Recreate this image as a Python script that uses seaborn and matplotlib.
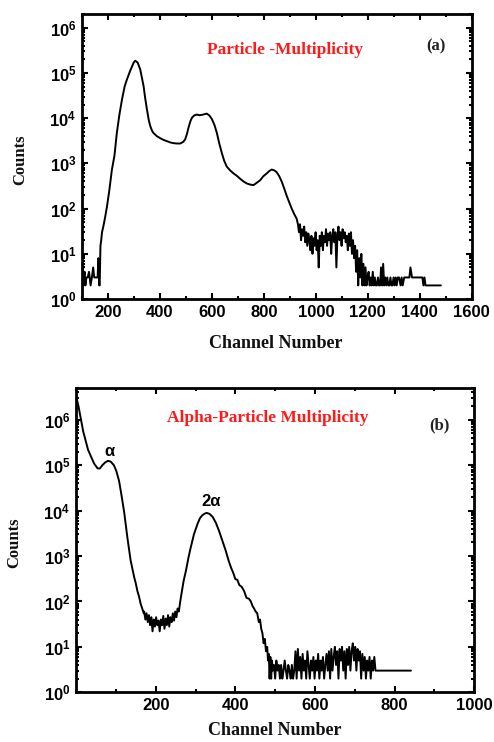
import numpy as np
import pandas as pd
import matplotlib
matplotlib.use("Agg")
import matplotlib.pyplot as plt
import seaborn as sns
from matplotlib.ticker import FixedLocator, FixedFormatter, MultipleLocator, LogLocator, NullFormatter

# ---------------- data ----------------
# Panel (a): Particle multiplicity spectrum
a_channel = [100, 102, 104, 107, 110, 113, 117, 122, 127, 133, 138, 143, 147, 155, 160, 163, 166, 168,
             171, 174, 177, 182, 188, 196, 205, 215, 225, 234, 244, 254, 264, 273, 285, 299, 305, 314,
             324, 330, 337, 343, 350, 357, 363, 370, 375, 388, 401, 414, 427, 440, 452, 465, 478, 490,
             497, 504, 510, 517, 523, 532, 542, 552, 561, 571, 580, 590, 600, 610, 619, 628, 638, 647,
             657, 670, 683, 696, 708, 721, 734, 747, 760, 772, 785, 798, 811, 821, 830, 840, 849, 859,
             869, 878, 888, 898, 907, 917, 926, 931,
             935, 939, 943, 947, 951, 955, 959, 963, 967, 971, 975, 979, 983, 987, 991, 995, 999, 1003,
             1007, 1011, 1015, 1019, 1023, 1027, 1031, 1035, 1039, 1043, 1047, 1051, 1055, 1059, 1063,
             1067, 1071, 1075, 1079, 1083, 1087, 1091, 1095, 1099, 1103, 1107, 1111, 1115, 1119, 1123,
             1127, 1131, 1135, 1139, 1143, 1147, 1151, 1155, 1159, 1163, 1167, 1171, 1175, 1179, 1183,
             1187, 1191, 1195, 1199, 1203, 1207, 1211, 1215, 1219, 1223, 1227, 1231, 1235, 1239, 1243,
             1247, 1251, 1255, 1259, 1263, 1267, 1271, 1275, 1279, 1283, 1287, 1291, 1295, 1299, 1303,
             1307, 1311, 1315, 1320, 1326, 1330, 1334, 1340, 1345, 1350, 1360, 1364, 1370, 1390, 1410,
             1414, 1418, 1422, 1440, 1481]
a_counts = [2, 5, 2, 3, 4, 2, 3, 3, 4, 2, 3, 5, 3, 3, 3, 8, 2, 2,
            15, 20, 30, 40, 60, 110, 250, 720, 1500, 4700, 12000, 26000, 50000, 72000, 110000, 170000, 186000, 170000,
            120000, 80000, 51000, 28000, 15500, 9000, 6600, 5200, 4700, 4000, 3600, 3300, 3100, 2900, 2800, 2750, 2750, 3000,
            3400, 4500, 6200, 8500, 10200, 11500, 12000, 11600, 11800, 12200, 12600, 11500, 9500, 7000, 4700, 2800, 1700, 1150,
            850, 700, 600, 530, 460, 400, 360, 340, 330, 370, 420, 520, 600, 680, 730, 700, 640, 520,
            390, 280, 190, 135, 100, 75, 60, 45,
            30, 45, 20, 35, 25, 40, 18, 30, 15, 28, 20, 12, 25, 10, 22, 15, 30, 12,
            20, 5, 25, 15, 30, 12, 25, 18, 35, 15, 28, 20, 30, 10, 25,
            35, 18, 30, 5, 25, 40, 20, 30, 15, 35, 22, 30, 18, 25, 12,
            28, 15, 30, 10, 20, 8, 15, 4, 12, 2, 8, 3, 10, 2, 6,
            2, 5, 2, 3, 4, 2, 3, 2, 4, 2, 3, 2, 2, 3, 2,
            2, 5, 2, 6, 2, 3, 2, 3, 2, 2, 3, 2, 2, 3, 2,
            3, 2, 3, 3, 2, 3, 2, 3, 3, 3, 3, 5, 3, 3, 3,
            2, 3, 2, 2, 2]

# Panel (b): Alpha-particle multiplicity spectrum
b_channel = [2, 6, 10, 14, 18, 24, 30, 37, 45, 54, 60, 66, 73, 80, 87, 95, 101, 108, 114, 121, 129, 137,
             146, 150, 154, 158, 162, 166, 170,
             171, 174, 177, 180, 183, 186, 189, 192, 195, 198, 201, 204, 207, 210, 213, 216, 219, 222,
             225, 228, 231, 234, 237, 240, 243, 246, 249, 252, 255, 258, 263, 270, 276, 282, 288, 296,
             305, 311, 317, 323, 328, 335, 343, 351, 359, 368, 376, 383, 389, 395, 400, 405, 410, 416,
             422, 428, 434, 439, 443, 447, 451, 455, 459, 462, 465, 468, 471, 474, 477, 480, 482, 484,
             486, 488, 490, 492, 494, 497, 500, 503, 506, 509, 512, 515, 518, 521, 524, 527, 530, 533,
             536, 539, 542, 545, 548, 551, 554, 557, 560, 563, 566, 569, 572, 575, 578, 581, 584, 587,
             590, 593, 596, 599, 602, 605, 608, 611, 614, 617, 620, 623, 626, 629, 632, 635, 638, 641,
             644, 647, 650, 653, 656, 659, 662, 665, 668, 671, 674, 677, 680, 683, 686, 689, 692, 695,
             698, 701, 704, 707, 710, 713, 716, 719, 722, 725, 728, 731, 734, 737, 740, 743, 746, 749,
             752, 841]
b_counts = [2800000, 2000000, 1300000, 850000, 550000, 350000, 220000, 160000, 110000, 85000, 85000, 100000,
            115000, 125000, 120000, 100000, 75000, 45000, 22000, 9000, 2500, 800,
            340, 250, 170, 130, 90, 70, 55,
            60, 40, 55, 35, 50, 30, 45, 22, 40, 28, 45, 30, 38, 22, 40, 30, 48, 25,
            42, 30, 50, 28, 45, 35, 55, 38, 60, 45, 70, 60, 120, 280, 480, 900, 1550, 3000,
            5100, 6800, 7900, 8600, 8900, 8500, 7300, 5400, 3600, 2100, 1300, 800, 560, 420, 310, 300, 230, 210,
            170, 120, 115, 100, 80, 70, 60, 55, 35, 40, 25, 20, 12, 15, 8, 10, 5, 7,
            2, 6, 2, 5, 3, 4, 2, 5, 3, 4, 2, 4, 2, 3, 5, 3, 2, 4,
            3, 2, 4, 2, 3, 8, 2, 9, 3, 6, 2, 7, 3, 5, 2, 8, 4, 2,
            5, 3, 6, 2, 5, 3, 7, 2, 5, 3, 6, 2, 4, 7, 3, 8, 2, 9,
            3, 6, 10, 4, 8, 2, 9, 5, 10, 3, 8, 2, 9, 4, 10, 3, 8, 12,
            5, 10, 3, 9, 5, 8, 2, 7, 3, 6, 2, 5, 3, 6, 2, 5, 3, 6,
            3, 3]

a_xticks = [200, 400, 600, 800, 1000, 1200, 1400, 1600]
b_xticks = [200, 400, 600, 800, 1000]
y_ticks = [1e0, 1e1, 1e2, 1e3, 1e4, 1e5, 1e6]
y_ticklabels = [r"$\mathregular{10^{%d}}$" % k for k in range(7)]

title_a = "Particle -Multiplicity"
title_b = "Alpha-Particle Multiplicity"
tag_a, tag_b = "(a)", "(b)"
xlabel = "Channel Number"
ylabel = "Counts"

# ---------------- style ----------------
sns.set_theme(style="ticks")
plt.rcParams["font.family"] = ["Liberation Sans", "DejaVu Sans"]
plt.rcParams["mathtext.fontset"] = "custom"
plt.rcParams["mathtext.rm"] = "Liberation Sans:bold"
plt.rcParams["mathtext.it"] = "Liberation Sans:bold"
plt.rcParams["mathtext.bf"] = "Liberation Sans:bold"

fig = plt.figure(figsize=(4.94, 7.42), dpi=100)
fig.patch.set_facecolor("white")
ax_a = fig.add_axes([0.166, 0.597, 0.789, 0.384])
ax_b = fig.add_axes([0.154, 0.067, 0.806, 0.410])

df_a = pd.DataFrame({"channel": a_channel, "counts": a_counts})
df_b = pd.DataFrame({"channel": b_channel, "counts": b_counts})

serif = ["Liberation Serif", "DejaVu Serif"]


def style_axis(ax, xlim, ylim, xticks, xlab_xy, ylab_xy):
    ax.set_yscale("log")
    ax.set_xlim(*xlim)
    ax.set_ylim(*ylim)
    ax.xaxis.set_major_locator(FixedLocator(xticks))
    ax.xaxis.set_major_formatter(FixedFormatter([str(t) for t in xticks]))
    ax.xaxis.set_minor_locator(MultipleLocator(100))
    ax.yaxis.set_major_locator(FixedLocator(y_ticks))
    ax.yaxis.set_major_formatter(FixedFormatter(y_ticklabels))
    ax.yaxis.set_minor_locator(LogLocator(base=10, subs=np.arange(2, 10), numticks=20))
    ax.yaxis.set_minor_formatter(NullFormatter())
    ax.tick_params(which="both", direction="in", top=True, right=True, color="black", width=1.5)
    ax.tick_params(which="major", length=4.5, pad=4, labelsize=12)
    ax.tick_params(which="minor", length=2.5)
    for lab in ax.get_xticklabels() + ax.get_yticklabels():
        lab.set_fontweight("bold")
        lab.set_color("black")
    for sp in ax.spines.values():
        sp.set_linewidth(2.0)
        sp.set_color("black")
        sp.set_visible(True)
    ax.set_xlabel(xlabel, fontsize=13, fontweight="bold", family=serif, color="#111111")
    ax.set_ylabel(ylabel, fontsize=12, fontweight="bold", family=serif, color="#111111")
    ax.xaxis.set_label_coords(*xlab_xy)
    ax.yaxis.set_label_coords(*ylab_xy)
    ax.grid(False)


sns.lineplot(data=df_a, x="channel", y="counts", ax=ax_a, color="black", linewidth=1.4,
             estimator=None, sort=False)
style_axis(ax_a, (100, 1600), (1, 2e6), a_xticks, (0.497, -0.125), (-0.138, 0.488))
ax_a.text(0.521, 0.874, title_a, transform=ax_a.transAxes, color="#ff1a1a", fontsize=12.5,
          fontweight="bold", family=serif, ha="center", va="center")
ax_a.text(0.908, 0.888, tag_a, transform=ax_a.transAxes, color="#222222", fontsize=12,
          fontweight="bold", family=serif, ha="center", va="center")

sns.lineplot(data=df_b, x="channel", y="counts", ax=ax_b, color="black", linewidth=1.4,
             estimator=None, sort=False)
style_axis(ax_b, (0, 1000), (1, 5e6), b_xticks, (0.5, -0.098), (-0.136, 0.493))
ax_b.text(0.481, 0.901, title_b, transform=ax_b.transAxes, color="#ff1a1a", fontsize=12.5,
          fontweight="bold", family=serif, ha="center", va="center")
ax_b.text(0.912, 0.878, tag_b, transform=ax_b.transAxes, color="#222222", fontsize=12,
          fontweight="bold", family=serif, ha="center", va="center")
ax_b.text(83, 2.0e5, "α", fontsize=12, fontweight="bold", ha="center", va="center", color="black")
ax_b.text(338, 1.6e4, "2α", fontsize=12, fontweight="bold", ha="center", va="center", color="black")

fig.savefig("out.png", dpi=100, facecolor="white")
